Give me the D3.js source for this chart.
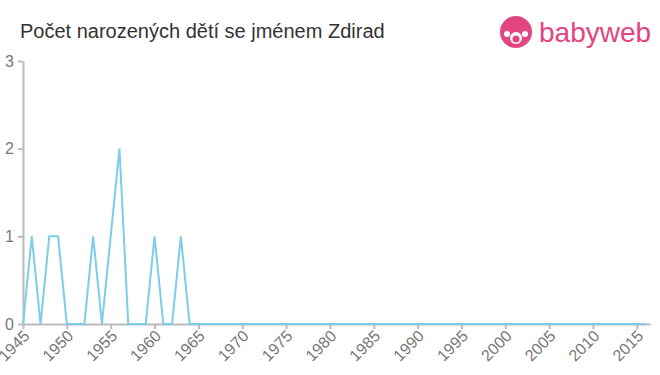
<!DOCTYPE html>
<meta charset="utf-8">
<script src="https://d3js.org/d3.v7.min.js"></script>
<style>
    body { margin: 0; background: #fff; }
    text { font-family: "Liberation Sans", Arial, sans-serif; }
</style>
<div id="chart"></div>

<script>
    // data
    const title = "Počet narozených dětí se jménem Zdirad";
    const years = d3.range(1945, 2017);
    const knownCounts = {1946: 1, 1948: 1, 1949: 1, 1953: 1, 1955: 1, 1956: 2, 1960: 1, 1963: 1};
    const counts = years.map(y => knownCounts[y] || 0);
    const yTicks = [0, 1, 2, 3];
    const xTicks = d3.range(1945, 2016, 5);

    const W = 660, H = 375;
    const margin = {top: 61, right: 10, bottom: 51, left: 23};

    const svg = d3.select("#chart")
        .append("svg")
        .attr("width", W)
        .attr("height", H);

    const x = d3.scaleLinear()
        .domain([1945, 2016.5])
        .range([margin.left, W - margin.right]);

    const y = d3.scaleLinear()
        .domain([0, 3])
        .range([H - margin.bottom, margin.top]);

    // title
    svg.append("text")
        .attr("x", 20)
        .attr("y", 38)
        .attr("font-size", 20)
        .attr("fill", "#333")
        .text(title);

    // logo
    const logo = svg.append("g").attr("transform", "translate(516,32)");
    logo.append("circle").attr("r", 16).attr("fill", "#e2457f");
    logo.append("circle").attr("cx", 0).attr("cy", 6).attr("r", 6).attr("fill", "#fff");
    logo.append("circle").attr("cx", 0).attr("cy", 7).attr("r", 3.5).attr("fill", "#e2457f");
    logo.append("circle").attr("cx", -9).attr("cy", 2).attr("r", 3).attr("fill", "#fff");
    logo.append("circle").attr("cx", 9).attr("cy", 2).attr("r", 3).attr("fill", "#fff");
    svg.append("text")
        .attr("x", 539)
        .attr("y", 42)
        .attr("font-size", 28)
        .attr("fill", "#e2457f")
        .text("babyweb");

    // y axis
    const yAxis = svg.append("g")
        .attr("transform", `translate(${margin.left},0)`)
        .call(d3.axisLeft(y).tickValues(yTicks).tickFormat(d3.format("d")).tickSize(5).tickSizeOuter(0));
    yAxis.select(".domain").attr("stroke", "#bbb").attr("stroke-width", 2);
    yAxis.selectAll(".tick line").attr("stroke", "#bbb").attr("stroke-width", 2);
    yAxis.selectAll(".tick text")
        .attr("x", -9)
        .attr("font-size", 16)
        .attr("fill", "#777");

    // x axis
    const xAxis = svg.append("g")
        .attr("transform", `translate(0,${H - margin.bottom})`)
        .call(d3.axisBottom(x).tickValues(xTicks).tickFormat(d3.format("d")).tickSize(5).tickSizeOuter(0));
    xAxis.select(".domain").attr("stroke", "#bbb").attr("stroke-width", 2);
    xAxis.selectAll(".tick line").attr("stroke", "#bbb").attr("stroke-width", 2);
    xAxis.selectAll(".tick text")
        .attr("font-size", 16)
        .attr("fill", "#777")
        .attr("text-anchor", "end")
        .attr("dy", 0)
        .attr("transform", "translate(7,13) rotate(-45)")
        .attr("y", 0)
        .attr("x", 0);

    // line
    const line = d3.line()
        .x((d, i) => x(years[i]))
        .y(d => y(d));

    svg.append("path")
        .datum(counts)
        .attr("fill", "none")
        .attr("stroke", "#7dcdea")
        .attr("stroke-width", 2)
        .attr("d", line);
</script>
